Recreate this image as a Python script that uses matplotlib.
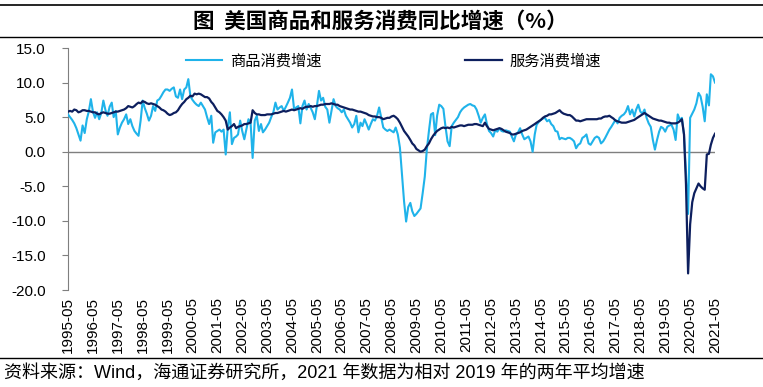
import matplotlib
matplotlib.use("Agg")
import matplotlib.pyplot as plt
import pandas as pd
from matplotlib.lines import Line2D

# ---------------- data (monthly, 1995-05 .. 2021-05) ----------------
start_month = "1995-05"
goods_growth = [
    5.4, 5.0, 4.6, 4.1, 3.4, 2.5, 1.6, 3.8, 2.7, 4.7, 5.8, 7.6,
    5.8, 4.9, 5.7, 4.7, 5.6, 7.4, 6.0, 5.2, 6.5, 7.1, 5.0, 5.9,
    2.5, 3.5, 4.2, 4.7, 5.4, 4.0, 4.7, 3.7, 3.0, 2.6, 2.3, 4.5,
    7.4, 6.3, 5.5, 4.5, 5.2, 6.6, 5.9, 7.4, 7.6, 8.1, 8.6, 9.0,
    9.0, 8.8, 9.1, 9.3, 8.0, 7.8, 9.0, 7.6, 9.0, 9.3, 10.5, 8.0,
    7.5, 7.1, 6.8, 6.6, 7.1, 6.6, 6.1, 5.0, 4.0, 5.2, 1.3, 2.8,
    3.0, 3.2, 2.9, 3.2, -0.4, 3.5, 5.7, 1.1, 2.0, 2.2, 2.5, 4.5,
    3.0, 1.8, 3.2, 4.7, 4.2, -0.9, 4.5, 5.2, 3.0, 4.0, 2.8, 3.2,
    3.7, 4.2, 5.0, 5.7, 7.1, 6.1, 6.4, 6.6, 5.9, 6.5, 7.1, 7.8,
    9.0, 6.1, 6.4, 6.6, 4.1, 6.6, 7.4, 6.1, 6.9, 6.3, 5.7, 4.7,
    6.6, 8.8, 7.4, 7.8, 6.5, 6.1, 4.2, 5.9, 7.6, 6.6, 6.3, 6.1,
    5.7, 6.1, 5.2, 4.7, 4.2, 3.5, 4.0, 5.2, 2.8, 4.2, 3.7, 4.7,
    4.0, 3.2, 4.0, 4.7, 4.5, 5.2, 6.4, 5.0, 3.5, 3.2, 3.0, 3.2,
    3.0, 2.8, 3.5, 2.5, 0.6, -3.3, -7.2, -10.1, -8.0, -7.4, -8.6, -9.3,
    -9.0, -8.6, -8.2, -6.0, -3.6, 0.3, 3.0, 5.4, 5.6, 2.4, 5.2, 6.8,
    6.6, 6.2, 3.7, 1.5, 0.8, 3.7, 4.2, 4.6, 5.0, 5.7, 6.1, 6.4,
    6.6, 6.8, 6.9, 6.7, 6.6, 6.1, 5.2, 4.2, 4.9, 5.4, 4.0, 3.0,
    2.7, 2.2, 3.1, 2.9, 3.4, 3.0, 2.9, 3.1, 3.0, 2.9, 2.2, 1.5,
    2.5, 2.8, 3.4, 2.5, 1.8, 2.0, 2.2, 1.5, 0.0, 2.5, 3.9, 4.3,
    4.6, 4.8, 4.9, 4.4, 4.6, 4.0, 3.7, 3.0, 2.9, 1.8, 2.0, 1.9,
    1.8, 2.0, 2.0, 1.8, 1.5, 0.5, 1.0, 1.2, 2.0, 2.2, 2.5, 1.2,
    1.0, 1.5, 2.0, 2.2, 2.0, 1.2, 1.5, 2.0, 2.6, 3.2, 3.6, 4.1,
    4.6, 4.1, 4.9, 5.2, 5.4, 5.8, 6.6, 5.4, 6.1, 5.1, 6.1, 6.8,
    5.8, 5.5, 6.1, 4.9, 4.1, 3.6, 1.7, 0.3, 1.7, 2.9, 3.6, 3.4,
    2.9, 3.6, 3.8, 3.9, 3.2, 1.7, 5.4, 4.6, 4.9, 2.5, -3.0, -9.0,
    4.9, 5.5, 6.1, 7.0, 8.5, 8.0, 6.5, 4.4, 8.3, 6.7, 11.2, 10.9,
    10.0,
]
services_growth = [
    5.8, 5.9, 5.8, 6.1, 6.0, 5.7, 5.8, 6.0, 6.0, 5.9, 5.9, 5.8,
    5.7, 5.7, 5.5, 5.4, 5.6, 5.7, 5.6, 5.5, 5.5, 5.6, 5.7, 5.8,
    5.8, 5.9, 6.0, 6.1, 6.3, 6.6, 6.5, 6.4, 6.6, 6.9, 7.1, 7.0,
    7.3, 7.2, 7.0, 6.9, 7.0, 6.9, 6.8, 6.6, 6.4, 6.1, 6.0, 5.8,
    5.5, 5.3, 5.4, 5.6, 5.7, 6.0, 6.5, 6.9, 7.2, 7.6, 7.8, 8.1,
    8.0, 8.4, 8.3, 8.4, 8.3, 8.1, 7.9, 7.9, 7.7, 7.2, 6.9, 6.4,
    5.9, 5.7, 5.4, 5.0, 4.5, 3.2, 3.5, 3.7, 4.0, 3.4, 3.6, 3.7,
    3.8, 4.0, 4.0, 4.1, 4.2, 6.0, 5.6, 5.4, 5.4, 5.3, 5.3, 5.3,
    5.4, 5.4, 5.4, 5.5, 5.6, 5.6, 5.7, 5.8, 5.9, 5.8, 5.9, 6.0,
    6.1, 6.0, 6.1, 6.2, 6.3, 6.2, 6.4, 6.5, 6.5, 6.6, 6.5, 6.6,
    6.6, 6.7, 6.8, 6.8, 6.9, 6.9, 6.9, 7.0, 6.9, 6.8, 6.8, 6.6,
    6.5, 6.4, 6.3, 6.2, 6.1, 6.1, 6.0, 5.9, 5.8, 5.8, 5.7, 5.6,
    5.5, 5.3, 5.2, 5.1, 5.1, 5.0, 5.0, 4.9, 4.7, 4.8, 4.9, 4.9,
    5.1, 5.2, 5.0, 4.7, 4.2, 3.6, 3.0, 2.6, 2.2, 1.7, 1.2, 0.9,
    0.4, 0.2, 0.0, 0.1, 0.3, 0.8, 1.2, 1.8, 2.3, 2.7, 3.0, 3.2,
    3.4, 3.5, 3.4, 3.5, 3.4, 3.6, 3.5, 3.6, 3.7, 3.8, 3.8, 3.7,
    3.8, 3.9, 3.9, 3.9, 4.0, 4.0, 3.9, 3.8, 3.7, 4.2, 3.7, 3.3,
    3.2, 3.1, 3.2, 3.3, 3.4, 3.3, 3.1, 2.9, 2.8, 2.7, 2.5, 2.5,
    2.6, 2.7, 2.8, 3.0, 3.1, 3.2, 3.4, 3.6, 3.8, 4.0, 4.2, 4.4,
    4.6, 4.9, 5.1, 5.2, 5.4, 5.4, 5.5, 5.6, 5.8, 6.0, 5.7, 5.5,
    5.4, 5.3, 5.3, 5.1, 4.8, 4.5, 4.5, 4.4, 4.5, 4.6, 4.7, 4.7,
    4.7, 4.7, 4.7, 4.7, 4.8, 4.8, 5.0, 5.1, 5.1, 5.2, 5.0, 4.8,
    4.5, 4.4, 4.3, 4.2, 4.2, 4.2, 4.3, 4.4, 4.5, 4.6, 4.8, 5.0,
    5.2, 5.4, 5.6, 5.4, 5.2, 5.0, 4.8, 4.7, 4.6, 4.5, 4.5, 4.4,
    4.3, 4.2, 4.2, 4.1, 4.1, 4.1, 4.2, 4.4, 4.7, 2.5, -4.7, -17.6,
    -10.5, -7.3, -6.0, -5.3, -4.6, -5.0, -5.3, -5.5, -0.4, -0.3, 1.0, 2.0,
    2.6,
]
goods_label = "商品消费增速"
services_label = "服务消费增速"
title_text = "图  美国商品和服务消费同比增速（%）"
source_text = "资料来源：Wind，海通证券研究所，2021 年数据为相对 2019 年的两年平均增速"
y_ticks = [-20, -15, -10, -5, 0, 5, 10, 15]

# ---------------- figure ----------------
W, H = 763, 387
fig = plt.figure(figsize=(W / 100, H / 100), dpi=100)
fig.patch.set_facecolor("white")

dates = pd.date_range(start_month, periods=len(goods_growth), freq="MS")
tick_dates = dates[::12]
tick_labels = [d.strftime("%Y-%m") for d in tick_dates]

LIGHT = "#1FB3EA"
DARK = "#0D1F5E"
LATIN = ["Liberation Sans", "Noto Sans CJK SC", "DejaVu Sans"]

ax = fig.add_axes([68 / W, 1 - 290 / H, (715 - 68) / W, (290 - 48) / H])
ax.plot(dates, goods_growth, color=LIGHT, lw=1.5, label=goods_label, zorder=3)
ax.plot(dates, services_growth, color=DARK, lw=1.6, label=services_label, zorder=4)
ax.axhline(0, color="#7f7f7f", lw=1.0, zorder=2)

ax.set_xlim(dates[0], dates[-1])
ax.set_ylim(-20, 15)
ax.set_yticks(y_ticks)
ax.set_yticklabels([f"{v:.1f}" for v in y_ticks], fontsize=11, family=LATIN)
ax.set_xticks(tick_dates)
ax.set_xticklabels(tick_labels, rotation=90, fontsize=11, family=LATIN)
ax.tick_params(axis="x", length=0, pad=5)
ax.tick_params(axis="y", length=4, width=0.8, color="#7f7f7f", pad=12, direction="out")
for s in ["top", "right", "bottom"]:
    ax.spines[s].set_visible(False)
ax.spines["left"].set_color("#7f7f7f")
ax.spines["left"].set_linewidth(0.8)

leg = ax.legend(loc="upper left", bbox_to_anchor=(172 / W, 1 - 39 / H), bbox_transform=fig.transFigure,
                ncol=2, frameon=False, handlelength=2.4, handletextpad=0.5, columnspacing=9.4,
                prop={"family": ["Noto Sans CJK SC"], "size": 11})

# header / footer lines & texts
fig.add_artist(Line2D([0, 1], [1 - 5 / H] * 2, color="black", lw=1.2))
fig.add_artist(Line2D([0, 1], [1 - 37 / H] * 2, color="black", lw=1.0))
fig.add_artist(Line2D([0, 1], [1 - 358 / H] * 2, color="black", lw=1.0))
fig.text(380 / W, 1 - 21 / H, title_text, ha="center", va="center", fontsize=15.5, fontweight="bold",
         family=["Noto Sans CJK SC", "DejaVu Sans"])
fig.text(4 / W, 1 - 373 / H, source_text, ha="left", va="center", fontsize=13, family=LATIN)

fig.savefig("out.png", dpi=100, facecolor="white")
